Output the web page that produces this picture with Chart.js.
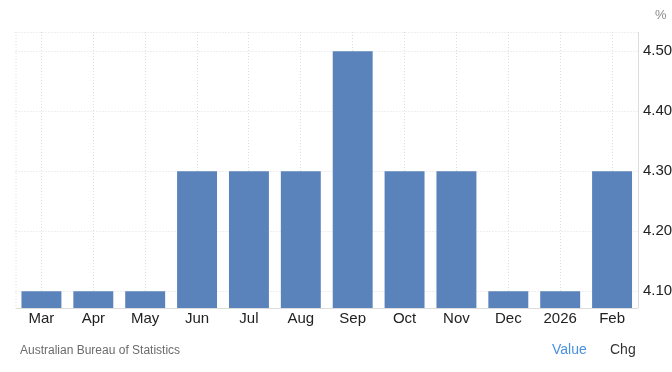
<!DOCTYPE html>
<html>
<head>
<meta charset="utf-8">
<script src="https://cdn.jsdelivr.net/npm/chart.js@4/dist/chart.umd.min.js"></script>
<style>
    html, body { margin: 0; padding: 0; background: #fff; }
    #wrap { position: relative; width: 672px; height: 372px; font-family: "Liberation Sans", Arial, sans-serif; }
    #chart { position: absolute; left: 0; top: 0; }
    .txt { position: absolute; white-space: nowrap; }
    #unit { left: 655px; top: 7px; font-size: 13px; color: #8a8a8a; }
    #source { left: 20px; top: 343px; font-size: 12px; color: #6b6b6b; }
    #value { left: 552px; top: 341px; font-size: 14px; color: #4a90e2; }
    #chg { left: 610px; top: 341px; font-size: 14px; color: #333; }
</style>
</head>
<body>
<div id="wrap">
    <canvas id="chart" width="672" height="372"></canvas>
    <div class="txt" id="unit">%</div>
    <div class="txt" id="source">Australian Bureau of Statistics</div>
    <div class="txt" id="value">Value</div>
    <div class="txt" id="chg">Chg</div>
</div>
<script>
(() => {
    "use strict";

    // ====== Data ======
    const months = ["Mar", "Apr", "May", "Jun", "Jul", "Aug", "Sep", "Oct", "Nov", "Dec", "2026", "Feb"];
    const rates = [4.1, 4.1, 4.1, 4.3, 4.3, 4.3, 4.5, 4.3, 4.3, 4.1, 4.1, 4.3];
    const yTicks = [4.1, 4.2, 4.3, 4.4, 4.5];
    const Y_MIN = 4.072;
    const Y_MAX = 4.532;

    const GRID = "#dedede";
    const AXIS = "#dcdcdc";

    // dotted left edge, solid bottom and right axis lines
    const edgePlugin = {
        id: "edges",
        beforeDatasetsDraw(chart) {
            const { ctx, chartArea: a } = chart;
            ctx.save();
            ctx.lineWidth = 1;
            ctx.strokeStyle = GRID;
            ctx.setLineDash([1, 2]);
            ctx.beginPath();
            ctx.moveTo(a.left + 0.5, a.top);
            ctx.lineTo(a.left + 0.5, a.bottom);
            ctx.stroke();
            ctx.setLineDash([]);
            ctx.strokeStyle = AXIS;
            ctx.beginPath();
            ctx.moveTo(a.left, Math.round(a.bottom) + 0.5);
            ctx.lineTo(a.right, Math.round(a.bottom) + 0.5);
            ctx.moveTo(Math.round(a.right) + 0.5, a.top);
            ctx.lineTo(Math.round(a.right) + 0.5, a.bottom);
            ctx.stroke();
            ctx.restore();
        }
    };

    new Chart(document.getElementById("chart").getContext("2d"), {
        type: "bar",
        data: {
            labels: months,
            datasets: [{
                data: rates,
                backgroundColor: "#5a82bb",
                borderWidth: 0,
                categoryPercentage: 1,
                barPercentage: 0.77,
                base: Y_MIN
            }]
        },
        options: {
            responsive: false,
            animation: false,
            layout: { padding: { left: 15.5, top: 32, right: 0, bottom: 42 } },
            plugins: { legend: { display: false }, tooltip: { enabled: false } },
            scales: {
                x: {
                    offset: true,
                    grid: { offset: false, color: GRID, drawTicks: false },
                    border: { display: false, dash: [1, 2] },
                    ticks: {
                        padding: 2,
                        color: "#222",
                        font: { family: "Liberation Sans, Arial, sans-serif", size: 15 },
                        maxRotation: 0,
                        autoSkip: false
                    }
                },
                y: {
                    position: "right",
                    min: Y_MIN,
                    max: Y_MAX,
                    afterBuildTicks(scale) {
                        scale.ticks = yTicks.map(v => ({ value: v })).concat([{ value: Y_MAX }]);
                    },
                    afterFit(scale) {
                        scale.width = 34;
                    },
                    grid: { color: GRID, drawTicks: false },
                    border: { display: false, dash: [1, 2] },
                    ticks: {
                        padding: 5,
                        color: "#222",
                        font: { family: "Liberation Sans, Arial, sans-serif", size: 15 },
                        callback: (v) => yTicks.includes(v) ? v.toFixed(2) : ""
                    }
                }
            }
        },
        plugins: [edgePlugin]
    });
})();
</script>
</body>
</html>
